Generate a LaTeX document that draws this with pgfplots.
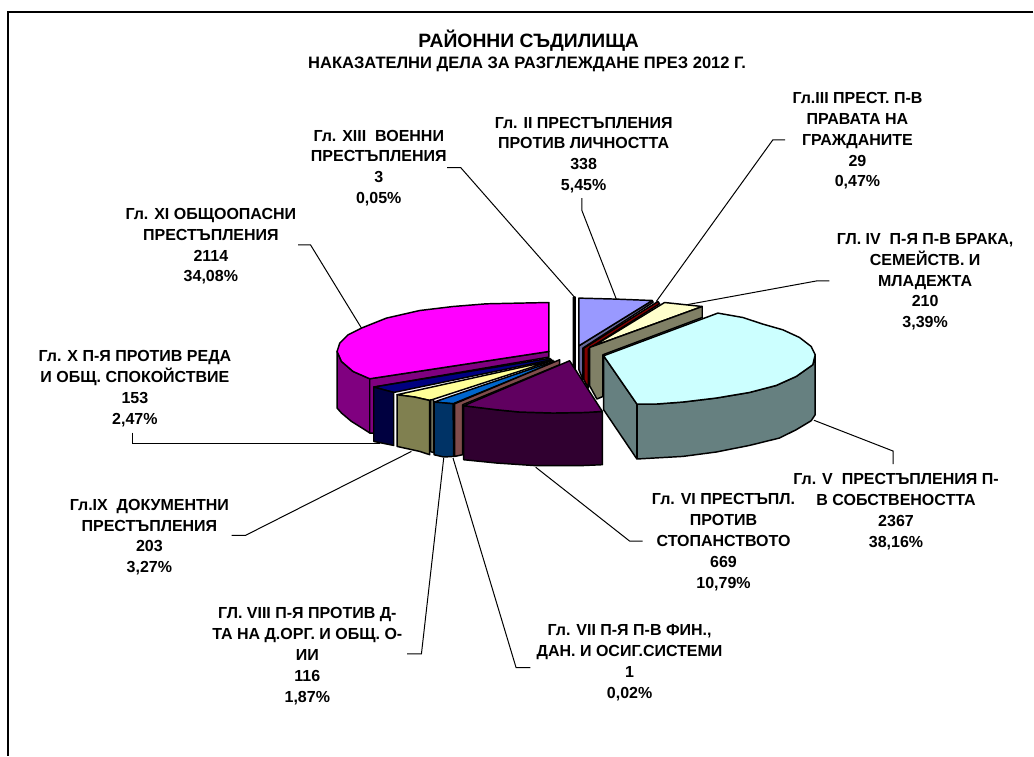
\documentclass[border=0pt]{standalone}
\usepackage{fontspec}
\setmainfont{Liberation Sans}
\usepackage{pgfplots}
\pgfplotsset{compat=1.18}
\definecolor{c2}{HTML}{9999FF}
\definecolor{c2w}{HTML}{666699}
\definecolor{c3}{HTML}{800000}
\definecolor{c4}{HTML}{FFFFCC}
\definecolor{c4w}{HTML}{808066}
\definecolor{c5}{HTML}{CCFFFF}
\definecolor{c5w}{HTML}{668080}
\definecolor{c6}{HTML}{600060}
\definecolor{c6w}{HTML}{300030}
\definecolor{c7}{HTML}{804C4C}
\definecolor{c8}{HTML}{0066CC}
\definecolor{c8w}{HTML}{003366}
\definecolor{c9}{HTML}{FFFF99}
\definecolor{c9w}{HTML}{808050}
\definecolor{c10}{HTML}{000080}
\definecolor{c10w}{HTML}{000040}
\definecolor{c11}{HTML}{FF00FF}
\definecolor{c11w}{HTML}{800080}
\tikzset{
  lbl/.style={align=center, inner sep=0pt, font=\fontsize{12}{15.6}\selectfont\bfseries},
}
\pgfplotsset{
  slice/.style={draw=black, line width=1.1pt, line join=round, fill=#1},
  leader/.style={draw=black, line width=0.75pt},
}
\begin{document}
\begin{tikzpicture}
\begin{axis}[
  scale only axis, width=775.5pt, height=567pt,
  xmin=0, xmax=1034, ymin=0, ymax=756, y dir=reverse,
  hide axis, clip=false,
]
% page and frame (top and left only)
\addplot[draw=none, fill=white] coordinates {(0,0) (1034,0) (1034,756) (0,756)} -- cycle;
\addplot[draw=black, line width=1pt] coordinates {(1034,12) (8,12) (8,756)};

% leader lines
\addplot[leader] coordinates {(447.5,167.7) (461,167.7) (575,297.5)};
\addplot[leader] coordinates {(298.3,245) (310.7,245) (361.7,328.3)};
\addplot[leader] coordinates {(582.3,198.3) (582.3,210.7) (616.7,299.3)};
\addplot[leader] coordinates {(785.7,140) (773.3,140) (656.7,301.7)};
\addplot[leader] coordinates {(830,281) (817.7,281) (686.7,305)};
\addplot[leader] coordinates {(814.4,420.5) (893.8,451.4) (893.8,464.4)};
\addplot[leader] coordinates {(536,467.5) (630,541.4) (643,541.4)};
\addplot[leader] coordinates {(453.3,458.3) (516.4,668) (530.8,668)};
\addplot[leader] coordinates {(407.3,654.3) (421.7,654.3) (444,458.3)};
\addplot[leader] coordinates {(231.7,535.7) (245.7,535.7) (411.7,451.7)};
\addplot[leader] coordinates {(133,433) (133,444) (380,444)};

% XI
\addplot[slice=c11w] coordinates {(337.3,351.7) (341.7,361.7) (353.3,371.7) (370,379) (370,433.3) (365,430) (351.7,421.7) (341.7,413.3) (337.3,408.3)} -- cycle;
\addplot[slice=c11w] coordinates {(370,379) (549.3,351.7) (549.3,357.3) (374,387.3) (374,433.3) (370,433.3)} -- cycle;
\addplot[slice=c11] coordinates {(549.3,302.7) (520,303.3) (486.7,304) (453.3,306.7) (420,310.7) (386.7,318.3) (361.7,328.3) (348.3,335) (340,343.3) (337.3,351.7) (341.7,361.7) (353.3,371.7) (370,379) (549.3,351.7)} -- cycle;
% X
\addplot[slice=c10] coordinates {(374,387.3) (550,358.5) (551.7,360) (394,392.7)} -- cycle;
\addplot[slice=c10w] coordinates {(374,387.3) (394,392.7) (394,445.7) (374,441.7)} -- cycle;
% IX
\addplot[slice=c9] coordinates {(397.3,395) (415,397.3) (430,400.7) (553.5,360.5)} -- cycle;
\addplot[slice=c9w] coordinates {(397.3,395) (415,397.3) (430,400.7) (430,455) (420,451.7) (397.3,446.7)} -- cycle;
\addplot[slice=c4w] coordinates {(431,400) (434,400) (434,453) (431,452)} -- cycle;
% VIII
\addplot[slice=c8] coordinates {(434.3,402.3) (453.3,404) (556,362) (554,361.5)} -- cycle;
\addplot[slice=c8w] coordinates {(434.3,402.3) (453.3,404) (454,456.7) (444,457.3) (434.3,455)} -- cycle;
% VII
\addplot[slice=c7] coordinates {(455,404) (560,360) (560,365) (463,405) (463,455) (455,456.7)} -- cycle;
% VI
\addplot[slice=c6w] coordinates {(464,406) (496.7,410) (520,412.3) (553.3,413.3) (586.7,412.7) (602.7,411.7) (602.7,465) (580,466) (536.7,466) (496.7,463.3) (464,460)} -- cycle;
\addplot[slice=c6] coordinates {(464,406) (570,361) (602.7,411.7) (586.7,412.7) (553.3,413.3) (520,412.3) (496.7,410)} -- cycle;
% XIII
\addplot[slice=black] coordinates {(573.8,297.3) (575.6,297.3) (575.6,369) (573.8,367)} -- cycle;
% II
\addplot[slice=c2w] coordinates {(579.3,346) (652.7,300.7) (653.5,302.5) (583.3,348.3) (583.3,380) (579.3,370)} -- cycle;
\addplot[slice=c2] coordinates {(579.3,298.3) (616.7,299.3) (652.7,300.7) (579.3,346)} -- cycle;
% III
\addplot[slice=c3] coordinates {(584.3,348.3) (658.3,301.7) (660,304) (588.7,349.3) (588.7,388.3) (584.3,380)} -- cycle;
% IV
\addplot[slice=c4] coordinates {(596,345) (665,302.7) (686.7,305) (702.7,306.7) (590,347.7)} -- cycle;
\addplot[slice=c4w] coordinates {(590,347.7) (702.7,306.7) (702.7,317.7) (603.3,355) (603.3,396.7) (597.3,399.3) (590,386)} -- cycle;
% V
\addplot[slice=c5w] coordinates {(604,356) (637.3,404.3) (656.7,404.3) (683.3,402.3) (716.7,398.3) (750,392.7) (776.7,385.7) (796.7,376.7) (813.3,365) (815.7,355) (815.7,415) (811.7,421) (796.7,430) (780,438.3) (750,445.7) (716.7,452.3) (683.3,456.7) (637.3,459.3) (604,410)} -- cycle;
\addplot[draw=black, line width=1.1pt] coordinates {(637.3,404.3) (637.3,459.3)};
\addplot[slice=c5] coordinates {(604,356) (718.3,313.3) (743.3,317.7) (763.3,324.3) (783.3,330) (800,337.7) (811.7,346.7) (815.7,355) (813.3,365) (796.7,376.7) (776.7,385.7) (750,392.7) (716.7,398.3) (683.3,402.3) (656.7,404.3) (637.3,404.3)} -- cycle;

% titles
\node[lbl, font=\fontsize{14.5}{16}\selectfont\bfseries] at (axis cs:529,41) {РАЙОННИ СЪДИЛИЩА};
\node[lbl, font=\fontsize{12.4}{15}\selectfont\bfseries] at (axis cs:527.5,64.3) {НАКАЗАТЕЛНИ ДЕЛА ЗА РАЗГЛЕЖДАНЕ ПРЕЗ 2012 Г.};

% data labels
\node[lbl] at (axis cs:379,168) {Гл. XIII\ \ ВОЕННИ\\ПРЕСТЪПЛЕНИЯ\\3\\0,05\%};
\node[lbl] at (axis cs:211,246.5) {Гл. XI ОБЩООПАСНИ\\ПРЕСТЪПЛЕНИЯ\\2114\\34,08\%};
\node[lbl] at (axis cs:584,155) {Гл. II ПРЕСТЪПЛЕНИЯ\\ПРОТИВ ЛИЧНОСТТА\\338\\5,45\%};
\node[lbl] at (axis cs:858,141) {Гл.III ПРЕСТ. П-В\\ПРАВАТА НА\\ГРАЖДАНИТЕ\\29\\0,47\%};
\node[lbl] at (axis cs:925.7,282) {ГЛ. IV\ \ П-Я П-В БРАКА,\\СЕМЕЙСТВ. И\\МЛАДЕЖТА\\210\\3,39\%};
\node[lbl] at (axis cs:896.6,512) {Гл. V\ \ ПРЕСТЪПЛЕНИЯ П-\\В СОБСТВЕНОСТТА\\2367\\38,16\%};
\node[lbl] at (axis cs:724,542.5) {Гл. VI ПРЕСТЪПЛ.\\ПРОТИВ\\СТОПАНСТВОТО\\669\\10,79\%};
\node[lbl] at (axis cs:630,663) {Гл. VII П-Я П-В ФИН.,\\ДАН. И ОСИГ.СИСТЕМИ\\1\\0,02\%};
\node[lbl] at (axis cs:307.5,656.5) {ГЛ. VIII П-Я ПРОТИВ Д-\\ТА НА Д.ОРГ. И ОБЩ. О-\\ИИ\\116\\1,87\%};
\node[lbl] at (axis cs:149.5,537.5) {Гл.IX\ \ ДОКУМЕНТНИ\\ПРЕСТЪПЛЕНИЯ\\203\\3,27\%};
\node[lbl] at (axis cs:135,389) {Гл. X П-Я ПРОТИВ РЕДА\\И ОБЩ. СПОКОЙСТВИЕ\\153\\2,47\%};
\end{axis}
\end{tikzpicture}
\end{document}
